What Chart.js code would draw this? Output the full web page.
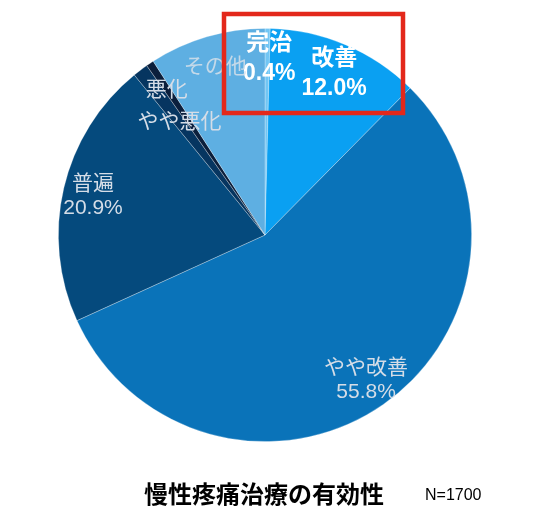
<!DOCTYPE html>
<html>
<head>
<meta charset="utf-8">
<script src="https://cdn.jsdelivr.net/npm/chart.js@4"></script>
<style>
  html, body { margin: 0; padding: 0; background: #fff; }
  #wrap { width: 552px; height: 517px; }
</style>
</head>
<body>
<div id="wrap"><canvas id="pieChart" width="552" height="517"></canvas></div>
<script>
// データ (時計回り、12時から)
const categories = ['完治', '改善', 'やや改善', '普遍', 'やや悪化', '悪化', 'その他'];
const percents = [0.4, 12.0, 55.8, 20.9, 1.2, 0.6, 9.1];
const sliceColors = ['#72c6f4', '#0aa0f2', '#0a73b9', '#054a7d', '#063560', '#0b1f3c', '#5eafe2'];
const showPercent = [true, true, true, true, false, false, false];
const boldLabel = [true, true, false, false, false, false, false];
const chartTitle = '慢性疼痛治療の有効性';
const sampleNote = 'N=1700';

const JP_FONT = '"Liberation Sans", "Noto Sans CJK JP", sans-serif';

// ラベル位置の微調整 (px)
const labelShift = [[2, 0], [0, 1], [0, 0], [0, 1], [21, 28], [0, 2], [0, 2]];

const labelPlugin = {
  id: 'sliceLabels',
  afterDatasetsDraw(chart) {
    const ctx = chart.ctx;
    const meta = chart.getDatasetMeta(0);
    ctx.save();
    ctx.textAlign = 'center';
    ctx.textBaseline = 'middle';
    meta.data.forEach((arc, i) => {
      const p = arc.getProps(['x', 'y', 'startAngle', 'endAngle', 'outerRadius'], true);
      const mid = (p.startAngle + p.endAngle) / 2;
      const r = p.outerRadius * 0.855;
      const cx = p.x + Math.cos(mid) * r + labelShift[i][0];
      const cy = p.y + Math.sin(mid) * r + labelShift[i][1];
      const lines = showPercent[i] ? [categories[i], percents[i].toFixed(1) + '%'] : [categories[i]];
      if (boldLabel[i]) {
        ctx.fillStyle = '#ffffff';
        ctx.font = 'bold 23px ' + JP_FONT;
      } else {
        ctx.fillStyle = i === 6 ? 'rgba(214,224,234,0.85)' : '#d5dde7';
        ctx.font = '21px ' + JP_FONT;
      }
      const gap = boldLabel[i] ? 30 : 24;
      const y0 = cy - (lines.length - 1) * gap / 2;
      lines.forEach((t, k) => ctx.fillText(t, cx, y0 + k * gap));
    });

    // タイトルと N
    ctx.fillStyle = '#000';
    ctx.font = 'bold 24px ' + JP_FONT;
    ctx.fillText(chartTitle, 264, 496);
    ctx.font = '16px ' + JP_FONT;
    ctx.textAlign = 'left';
    ctx.fillText(sampleNote, 425, 496);

    // 強調枠
    ctx.strokeStyle = '#e3281b';
    ctx.lineWidth = 4.5;
    ctx.strokeRect(224, 14, 179, 99);
    ctx.restore();
  }
};

new Chart(document.getElementById('pieChart').getContext('2d'), {
  type: 'pie',
  data: {
    labels: categories,
    datasets: [{
      data: percents,
      backgroundColor: sliceColors,
      borderColor: 'rgba(255,255,255,0.35)',
      borderWidth: 0.8
    }]
  },
  options: {
    responsive: false,
    animation: false,
    layout: { padding: { top: 28, bottom: 75, left: 58, right: 80 } },
    plugins: {
      legend: { display: false },
      tooltip: { enabled: false }
    }
  },
  plugins: [labelPlugin]
});
</script>
</body>
</html>
